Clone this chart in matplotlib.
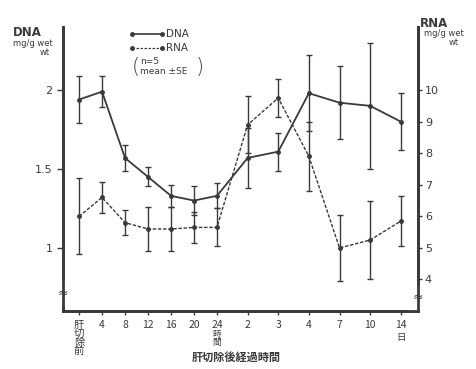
import numpy as np
import matplotlib.pyplot as plt

# time points after partial hepatectomy (hours, then days)
time_labels = ["肝\n切\n除\n前", "4", "8", "12", "16", "20", "24",
               "2", "3", "4", "7", "10", "14"]

# DNA content, mg/g wet wt (mean, SE)
dna_mean = [1.94, 1.99, 1.57, 1.45, 1.33, 1.30, 1.33, 1.57, 1.61, 1.98, 1.92, 1.90, 1.80]
dna_se = [0.15, 0.10, 0.08, 0.06, 0.07, 0.09, 0.08, 0.19, 0.12, 0.24, 0.23, 0.40, 0.18]

# RNA content, mg/g wet wt (mean, SE)
rna_mean = [6.0, 6.6, 5.8, 5.6, 5.6, 5.65, 5.65, 8.9, 9.75, 7.9, 5.0, 5.25, 5.85]
rna_se = [1.2, 0.5, 0.4, 0.7, 0.7, 0.5, 0.6, 0.9, 0.6, 1.1, 1.05, 1.25, 0.78]

dna_ticks = [1, 1.5, 2]
rna_ticks = [4, 5, 6, 7, 8, 9, 10]

# hours are spaced evenly, days get a wider step
n_hours = 7
day_step = 1.333
xpos = [i if i < n_hours else (n_hours - 1) + day_step * (i - n_hours + 1)
        for i in range(len(time_labels))]

ink = "#3a3a3a"
jp = ["Noto Sans CJK JP", "DejaVu Sans"]
plt.rcParams["font.family"] = ["DejaVu Sans", "Noto Sans CJK JP"]

fig = plt.figure(figsize=(4.77, 3.69), dpi=100)
ax = fig.add_axes([0.132, 0.157, 0.744, 0.770])
ax2 = ax.twinx()

ax.set_xlim(-0.7, 14.74)
ax.set_ylim(0.6, 2.4)
ax2.set_ylim(3.0, 12.0)

ax.errorbar(xpos, dna_mean, yerr=dna_se, color=ink, lw=1.3, marker="o", ms=2.5,
            elinewidth=1.0, capsize=2.5, capthick=1.0)
ax2.errorbar(xpos, rna_mean, yerr=rna_se, color=ink, lw=1.0, ls=(0, (2.5, 1.2)),
             marker="o", ms=2.5, elinewidth=1.0, capsize=2.5, capthick=1.0)

for a in (ax, ax2):
    a.spines["top"].set_visible(False)
    for s in ("left", "right", "bottom"):
        a.spines[s].set_linewidth(2.0)
        a.spines[s].set_color(ink)

ax.set_yticks(dna_ticks)
ax.set_yticklabels(["1", "1.5", "2"])
ax2.set_yticks(rna_ticks)
ax.tick_params(axis="y", direction="out", length=4, width=1, colors=ink, labelsize=8)
ax2.tick_params(axis="y", direction="out", length=3, width=1, colors=ink, labelsize=8, pad=2)

ax.set_xticks(xpos)
ax.set_xticklabels(time_labels, va="top", linespacing=0.85)
for lbl, txt in zip(ax.get_xticklabels(), time_labels):
    lbl.set_family(jp)
    if "\n" in txt:
        lbl.set_fontsize(6.3)
ax.tick_params(axis="x", direction="out", length=3, width=1, colors=ink, labelsize=7.5)

# unit markers under the hour and day groups
ax.text(xpos[6], -0.068, "時\n間", transform=ax.get_xaxis_transform(), ha="center",
        va="top", fontsize=6.3, family=jp, color=ink, linespacing=0.85)
ax.text(xpos[-1], -0.078, "日", transform=ax.get_xaxis_transform(), ha="center",
        va="top", fontsize=6.8, family=jp, color=ink)
fig.text(0.495, 0.032, "肝切除後経過時間", ha="center", va="center", fontsize=8,
         family=jp, color=ink, weight="bold")

# axis titles
fig.text(0.028, 0.913, "DNA", fontsize=8.5, weight="bold", color=ink, va="center")
fig.text(0.028, 0.883, "mg/g wet", fontsize=6, color=ink, va="center")
fig.text(0.105, 0.858, "wt", fontsize=6, color=ink, va="center", ha="right")
fig.text(0.880, 0.937, "RNA", fontsize=8.5, weight="bold", color=ink, va="center")
fig.text(0.888, 0.910, "mg/g wet", fontsize=6, color=ink, va="center")
fig.text(0.962, 0.885, "wt", fontsize=6, color=ink, va="center", ha="right")

# axis break marks
ax.text(0.0, 0.064, "≈", transform=ax.transAxes, ha="center", va="center",
        fontsize=9, color=ink, backgroundcolor="white")
ax.text(1.0, 0.047, "≈", transform=ax.transAxes, ha="center", va="center",
        fontsize=9, color=ink, backgroundcolor="white")

# legend
fig.text(0.347, 0.908, "DNA", fontsize=7.5, color=ink, va="center")
fig.text(0.347, 0.869, "RNA", fontsize=7.5, color=ink, va="center")
fig.lines.append(plt.Line2D([0.277, 0.340], [0.908, 0.908], transform=fig.transFigure,
                            color=ink, lw=1.2, marker="o", ms=2.5, markevery=[0, 1]))
fig.lines.append(plt.Line2D([0.277, 0.340], [0.869, 0.869], transform=fig.transFigure,
                            color=ink, lw=0.9, ls=(0, (2, 1.2)), marker="o", ms=2.5,
                            markevery=[0, 1]))
fig.text(0.276, 0.819, "(", fontsize=15, color=ink, va="center", family="DejaVu Sans",
         weight="light")
fig.text(0.410, 0.819, ")", fontsize=15, color=ink, va="center", family="DejaVu Sans",
         weight="light")
fig.text(0.293, 0.832, "n=5", fontsize=6.5, color=ink, va="center")
fig.text(0.293, 0.805, "mean ±SE", fontsize=6.5, color=ink, va="center")

fig.savefig("out.png", dpi=100)
